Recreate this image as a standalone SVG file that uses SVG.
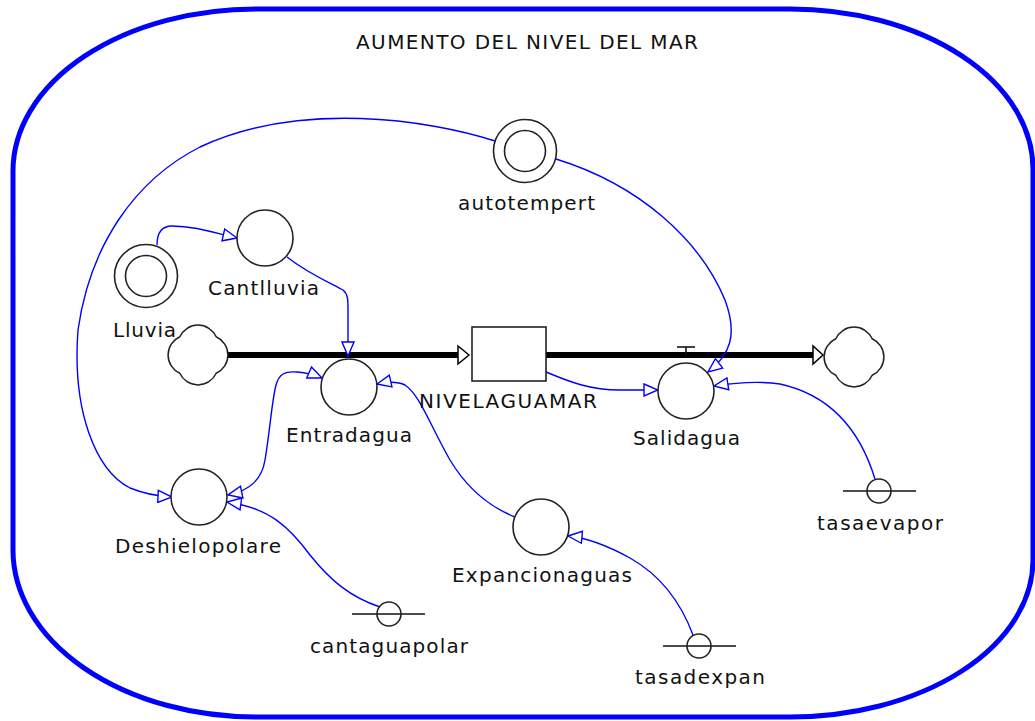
<svg xmlns="http://www.w3.org/2000/svg" width="1035" height="721" viewBox="0 0 1035 721">
<style>
.lbl{font-family:"DejaVu Sans","Liberation Sans",sans-serif;font-size:20px;fill:#111;}
.node{fill:#fff;stroke:#222;stroke-width:1.6;}
.ring{fill:none;stroke:#222;stroke-width:1.6;}
.bar{stroke:#111;stroke-width:1.6;}
.link{fill:none;stroke:#0000ff;stroke-width:1.4;marker-end:url(#ah);}
.pipe{stroke:#000;stroke-width:6;}
.pipehead{fill:#fff;stroke:#000;stroke-width:1.5;}
.border{fill:none;stroke:#0000ff;stroke-width:5;}
</style>
<defs>
<marker id="ah" viewBox="0 0 16 14" refX="15" refY="7" markerWidth="16" markerHeight="14" markerUnits="userSpaceOnUse" orient="auto-start-reverse">
<path d="M1,1 L15,7 L1,13 Z" fill="#fff" stroke="#0000ff" stroke-width="1.4"/>
</marker>
<path id="cloud" d="M-18.2,-18.2 A20,20 0 0 1 18.2,-18.2 A20,20 0 0 1 18.2,18.2 A20,20 0 0 1 -18.2,18.2 A20,20 0 0 1 -18.2,-18.2 Z" fill="#fff" stroke="#222" stroke-width="1.5"/>
</defs>
<rect width="1035" height="721" fill="#fff"/>
<path class="border" d="M256,9 H790 A243,160 0 0 1 1033,169 V560 A243,157 0 0 1 790,717 H256 A243,167 0 0 1 13,550 V171 A243,162 0 0 1 256,9 Z"/>
<text class="lbl" x="356" y="49" textLength="342">AUMENTO DEL NIVEL DEL MAR</text>

<g id="flows">
<line class="pipe" x1="226" y1="355" x2="459" y2="355"/>
<polygon class="pipehead" points="458,346 458,364 469,355"/>
<line class="pipe" x1="546" y1="355" x2="814" y2="355"/>
<polygon class="pipehead" points="813,346 813,364 823,355"/>
</g>

<g id="connectors">
<path class="link" d="M157,245 C157,232 162,226 172,226 C195,226 215,233 237,238"/>
<path class="link" d="M287,257 C310,275 335,285 343,290 C348,294 348,300 348,310 L348,356"/>
<path class="link" d="M495,141 C430,120 300,100 200,147 C135,180 90,245 78,330 C72,410 95,470 130,488 Q150,496 172,497"/>
<path class="link" d="M556,159 C640,185 700,240 725,300 C738,335 730,355 708,372"/>
<path class="link" d="M546,372 C570,382 590,390 620,390 L658,390"/>
<path class="link" d="M875,479 C860,430 830,395 780,384 C760,381 740,382 714,386"/>
<path class="link" style="marker-start:url(#ah)" d="M228,495 C252,490 262,478 265,460 C270,430 272,400 276,385 C279,374 285,371 297,372 C308,373 315,375 322,378"/>
<path class="link" d="M380,607 C350,597 330,580 310,555 C290,528 270,508 227,502"/>
<path class="link" d="M515,517 C485,505 465,485 450,460 C430,425 420,395 405,385 Q395,380 377,384"/>
<path class="link" d="M693,635 C680,600 660,575 630,558 C610,547 590,538 568,536"/>
</g>

<g id="source-cloud"><use href="#cloud" x="198" y="355"/></g>
<g id="sink-cloud"><use href="#cloud" x="854" y="357"/></g>

<g id="lluvia">
<circle class="node" cx="146" cy="276" r="31.5"/>
<circle class="ring" cx="146" cy="276" r="20.5"/>
<text class="lbl" x="113" y="337" textLength="63">Lluvia</text>
</g>
<g id="cantlluvia">
<circle class="node" cx="265" cy="238" r="28"/>
<text class="lbl" x="208" y="295" textLength="111">Cantlluvia</text>
</g>
<g id="autotempert">
<circle class="node" cx="525" cy="151" r="31.5"/>
<circle class="ring" cx="525" cy="151" r="20.5"/>
<text class="lbl" x="458" y="210" textLength="137">autotempert</text>
</g>
<g id="nivelaguamar">
<rect class="node" x="472" y="327" width="74" height="54"/>
<text class="lbl" x="419" y="408" textLength="178">NIVELAGUAMAR</text>
</g>
<g id="entradagua">
<circle class="node" cx="349" cy="387" r="28"/>
<text class="lbl" x="286" y="442" textLength="126">Entradagua</text>
</g>
<g id="salidagua">
<line class="bar" x1="686" y1="347" x2="686" y2="355"/>
<line class="bar" x1="677" y1="347" x2="695" y2="347"/>
<circle class="node" cx="686" cy="391" r="28"/>
<text class="lbl" x="633" y="445" textLength="107">Salidagua</text>
</g>
<g id="deshielopolare">
<circle class="node" cx="199" cy="497" r="28"/>
<text class="lbl" x="115" y="553" textLength="166">Deshielopolare</text>
</g>
<g id="expancionaguas">
<circle class="node" cx="541" cy="527" r="28"/>
<text class="lbl" x="452" y="582" textLength="180">Expancionaguas</text>
</g>
<g id="cantaguapolar">
<line class="bar" x1="352" y1="614" x2="425" y2="614"/>
<circle class="ring" cx="389" cy="614" r="12"/>
<text class="lbl" x="310" y="653" textLength="158">cantaguapolar</text>
</g>
<g id="tasadexpan">
<line class="bar" x1="663" y1="646" x2="736" y2="646"/>
<circle class="ring" cx="699" cy="646" r="12"/>
<text class="lbl" x="635" y="684" textLength="130">tasadexpan</text>
</g>
<g id="tasaevapor">
<line class="bar" x1="843" y1="491" x2="916" y2="491"/>
<circle class="ring" cx="879" cy="491" r="12"/>
<text class="lbl" x="817" y="530" textLength="126">tasaevapor</text>
</g>
</svg>
